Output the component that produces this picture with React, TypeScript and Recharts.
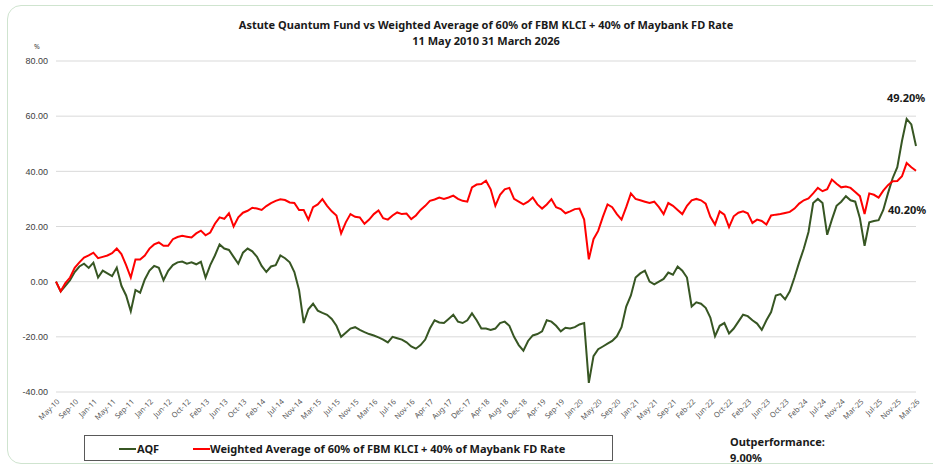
import { CartesianGrid, Line, LineChart, XAxis, YAxis } from "recharts";

// tick labels along the bottom, one every 4 samples
const xLabels = [
  "May-10", "Sep-10", "Jan-11", "May-11", "Sep-11", "Jan-12", "Jun-12", "Oct-12", "Feb-13", "Jun-13",
  "Oct-13", "Feb-14", "Jul-14", "Nov-14", "Mar-15", "Jul-15", "Nov-15", "Mar-16", "Jul-16", "Nov-16",
  "Apr-17", "Aug-17", "Dec-17", "Apr-18", "Aug-18", "Dec-18", "Apr-19", "Sep-19", "Jan-20", "May-20",
  "Sep-20", "Jan-21", "May-21", "Sep-21", "Feb-22", "Jun-22", "Oct-22", "Feb-23", "Jun-23", "Oct-23",
  "Feb-24", "Jul-24", "Nov-24", "Mar-25", "Jul-25", "Nov-25", "Mar-26",
];
const samplesPerLabel = 4;

// AQF cumulative return (%)
const aqf = [
  0, -3.5, -1.5, 0.5, 3.5, 5.5, 6.5, 5, 6.9, 1.5,
  4, 3, 2, 5.1, -1.5, -5, -10.7, -3, -4, 0.8,
  4, 5.7, 5, 0.5, 3.9, 6, 7, 7.3, 6.5, 7,
  6.3, 7.2, 1.5, 6, 9.5, 13.5, 12, 11.5, 9, 6.5,
  10.5, 12, 11, 9, 5.7, 3.5, 5.5, 6, 9.5, 8.5,
  7, 3.5, -3, -15, -10, -8, -10.5, -11.3, -12, -13.5,
  -16, -20, -18.5, -17, -16.5, -17.5, -18.3, -19, -19.5, -20.2,
  -21, -22, -20, -20.5, -21, -22, -23.5, -24.3, -23, -21,
  -17, -14, -14.8, -15, -13.5, -12, -14.5, -15, -14, -11.5,
  -14, -17, -17, -17.5, -17, -15, -14.5, -16, -20, -23,
  -25, -21.5, -19.5, -19, -18, -14, -14.5, -16, -18, -16.7,
  -17, -16.5, -15.5, -15, -36.7, -27, -24.5, -23.5, -22.5, -21.5,
  -19.8, -16.5, -9, -5, 1.5, 3, 4, 0, -1, 0,
  1, 3.3, 2.5, 5.5, 4, 1.5, -9, -7.5, -8, -9.5,
  -13, -19.8, -16, -15, -18.8, -17, -14.5, -12, -12.5, -14,
  -15.2, -17.5, -14, -11, -5, -4.5, -6.4, -3.5, 1.5, 7,
  12, 18, 28.5, 30, 28.5, 17, 22.5, 27.5, 29, 31,
  29.5, 29, 23, 13, 21.5, 22, 22.3, 26, 32, 37.5,
  41.5, 51, 59, 57, 49.2,
];

// 60% FBM KLCI + 40% Maybank FD rate (%)
const bench = [
  0, -3.5, -0.5, 1.5, 5, 7, 8.7, 9.5, 10.5, 8.5,
  9, 9.5, 10.3, 12, 10, 6, 1.5, 8, 8, 9.5,
  12, 13.5, 14.2, 13, 13, 15.4, 16.2, 16.6, 16.3, 16,
  17.5, 18.5, 16.8, 17.8, 21, 23.3, 22.8, 24.8, 20, 23.3,
  25, 25.7, 26.8, 26.5, 26, 27.4, 28.5, 29.3, 29.9, 29.6,
  28.7, 28.5, 26, 26, 22.5, 27, 28, 29.9, 27.5, 25.5,
  24, 17.5, 21.5, 24.5, 23.5, 23.3, 21, 22.5, 24.5, 25.8,
  23, 22.5, 24, 25.1, 24.5, 24.7, 22.7, 24, 26, 27.5,
  29.3, 29.8, 30.5, 30, 30.5, 31.2, 30, 29.3, 29, 34.2,
  35.2, 35.4, 36.6, 33.5, 27.5, 31.5, 33.5, 34, 30, 29,
  28, 29, 30.5, 28, 26.5, 28, 29.9, 27, 26.3, 24.8,
  25.5, 26.3, 26.5, 22.5, 8.1, 15.4, 18.4, 23.5, 28, 27,
  24.5, 22.5, 27, 32, 30, 29.5, 29, 28.5, 29, 27,
  24.5, 28.5, 27.5, 26, 24.5, 27.5, 29.5, 30, 29.5, 28.3,
  23.5, 20.7, 25.5, 24.3, 19.8, 23.7, 25, 25.5, 24.8, 21.3,
  22.5, 22, 20.7, 24, 24.3, 24.5, 24.9, 25.3, 26.5, 28.3,
  29.5, 30.2, 32, 34, 32.8, 33.5, 37, 35.5, 34.2, 34.5,
  34, 32.5, 31, 24.5, 32, 31.5, 30.5, 33, 35, 36.4,
  36.5, 38.2, 43, 41.5, 40.2,
];

const yTicks = [-40, -20, 0, 20, 40, 60, 80];

const GREEN = "#375623";
const RED = "#ff0000";

const data = aqf.map((v, i) => ({ i, aqf: v, bench: bench[i] }));
const xTicks = xLabels.map((_, k) => k * samplesPerLabel);

function MonthTick({ x, y, payload }: any) {
  const label = xLabels[Math.round(payload.value / samplesPerLabel)];
  return (
    <text
      x={x + 2}
      y={y}
      dy={3}
      textAnchor="end"
      fontSize={7.5}
      fill="#595959"
      fontFamily="Noto Sans"
      transform={`rotate(-45 ${x + 2} ${y})`}
    >
      {label}
    </text>
  );
}

const bold = { fontWeight: 700, fontSize: 11, color: "#1a1a1a", position: "absolute" as const, whiteSpace: "nowrap" as const, lineHeight: "16px" };

export default function App() {
  return (
    <div style={{ position: "absolute", left: 0, top: 0, width: 933, height: 467, overflow: "hidden", background: "#fff", fontFamily: "Noto Sans" }}>
      <div style={{ position: "absolute", left: 7, top: 5, width: 950, height: 457, border: "1px solid #cfe4cf", borderRadius: 14 }} />

      <div style={{ ...bold, left: 0, top: 17, width: 972, textAlign: "center" }}>
        Astute Quantum Fund vs Weighted Average of 60% of FBM KLCI + 40% of Maybank FD Rate
        <br />
        11 May 2010 31 March 2026
      </div>
      <div style={{ position: "absolute", left: 34, top: 42, fontSize: 7, color: "#404040" }}>%</div>

      <LineChart
        width={933}
        height={467}
        data={data}
        margin={{ top: 61, right: 17, bottom: 25, left: 0 }}
        style={{ position: "absolute", left: 0, top: 0 }}
      >
        <CartesianGrid vertical={false} stroke="#d9d9d9" />
        <XAxis
          dataKey="i"
          type="number"
          domain={[0, aqf.length - 1]}
          ticks={xTicks}
          interval={0}
          height={50}
          axisLine={false}
          tickLine={false}
          tick={<MonthTick />}
        />
        <XAxis
          xAxisId="top"
          orientation="top"
          dataKey="i"
          type="number"
          domain={[0, aqf.length - 1]}
          ticks={xTicks}
          interval={0}
          height={0}
          mirror
          tick={false}
          tickSize={3}
          tickLine={{ stroke: "#bfbfbf" }}
          axisLine={{ stroke: "#d9d9d9" }}
        />
        <YAxis
          type="number"
          domain={[-40, 80]}
          ticks={yTicks}
          interval={0}
          width={56}
          axisLine={false}
          tickLine={false}
          tickFormatter={(v: number) => v.toFixed(2)}
          tick={{ fontSize: 9, fill: "#404040", fontFamily: "Liberation Sans" }}
        />
        <Line type="linear" dataKey="aqf" stroke={GREEN} strokeWidth={2} dot={false} isAnimationActive={false} />
        <Line type="linear" dataKey="bench" stroke={RED} strokeWidth={2} dot={false} isAnimationActive={false} />
      </LineChart>

      <div style={{ ...bold, left: 887, top: 90 }}>49.20%</div>
      <div style={{ ...bold, left: 888, top: 202 }}>40.20%</div>

      <div style={{ position: "absolute", left: 84, top: 435, width: 529, height: 26, border: "1px solid #595959", boxSizing: "border-box" }}>
        <div style={{ position: "absolute", left: 34, top: 12, width: 17, height: 2, background: GREEN }} />
        <div style={{ ...bold, left: 52, top: 5 }}>AQF</div>
        <div style={{ position: "absolute", left: 108, top: 12, width: 17, height: 2, background: RED }} />
        <div style={{ ...bold, left: 125, top: 5 }}>Weighted Average of 60% of FBM KLCI + 40% of Maybank FD Rate</div>
      </div>

      <div style={{ ...bold, left: 730, top: 434 }}>
        Outperformance:
        <br />
        9.00%
      </div>
    </div>
  );
}
